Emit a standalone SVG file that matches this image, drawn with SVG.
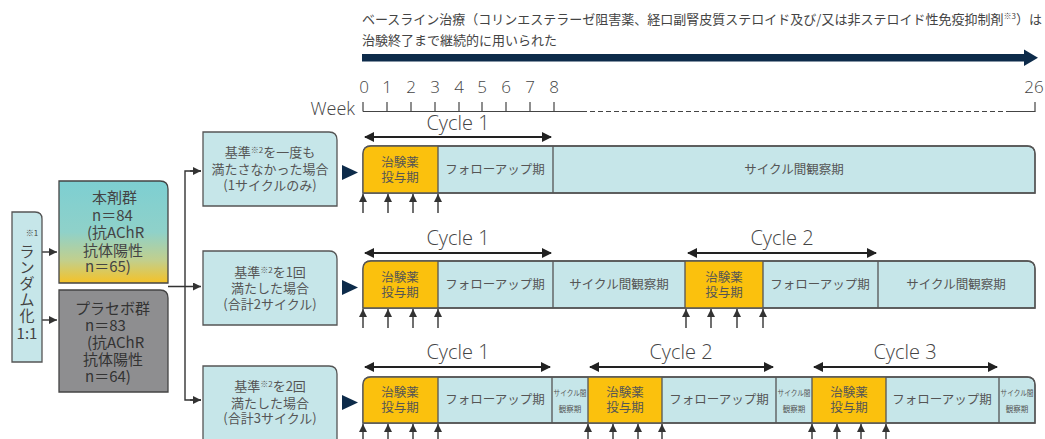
<svg xmlns="http://www.w3.org/2000/svg" width="1045" height="439" viewBox="0 0 1045 439">
<style>
text{font-family:"Noto Sans CJK JP","Noto Sans",sans-serif;fill:#444}
.t13{font-size:13px}
.box{fill:#c6e6e9;stroke:#555;stroke-width:1.3}
.cell{font-size:12.5px;text-anchor:middle;fill:#555}
.sm{font-size:7.5px;text-anchor:middle;fill:#555}
.cyc{font-family:"Open Sans","Noto Sans",sans-serif;font-weight:300;font-size:20px;text-anchor:middle;fill:#444}
.num{font-family:"Open Sans","Noto Sans",sans-serif;font-weight:300;font-size:17px;text-anchor:middle;fill:#444}
.dbl{stroke:#222;stroke-width:2.2;fill:none;marker-start:url(#ah);marker-end:url(#ah)}
.up{stroke:#333;stroke-width:1.4;marker-end:url(#au)}
.con{stroke:#333;stroke-width:1.4;fill:none}
.sep{stroke:#555;stroke-width:1.3}
.yel{fill:#fbc10d}
.tri{fill:#0d2b4a}
.g{font-size:15px;fill:#444}
.gp{font-size:15px;fill:#333}
.c{font-size:13px;text-anchor:middle;fill:#555}
.v{font-size:15px;text-anchor:middle;fill:#444}
</style>
<defs>
<marker id="ah" viewBox="0 0 10 10" refX="9" refY="5" markerWidth="11" markerHeight="10" markerUnits="userSpaceOnUse" orient="auto-start-reverse"><path d="M0,0L10,5L0,10Z" fill="#222"/></marker>
<marker id="au" viewBox="0 0 10 10" refX="10" refY="5" markerWidth="9" markerHeight="8" markerUnits="userSpaceOnUse" orient="auto"><path d="M0,0L10,5L0,10Z" fill="#333"/></marker>
<linearGradient id="grad" x1="0" y1="0" x2="0" y2="1">
<stop offset="0" stop-color="#7dcfd2"/>
<stop offset="0.5" stop-color="#8fd1c9"/>
<stop offset="0.78" stop-color="#c2cf8c"/>
<stop offset="1" stop-color="#f5c227"/>
</linearGradient>
</defs>

<!-- header -->
<g id="header">
<text class="t13" x="362" y="24">ベースライン治療（コリンエステラーゼ阻害薬、経口副腎皮質ステロイド及び/又は非ステロイド性免疫抑制剤<tspan font-size="8" dy="-5">※3</tspan><tspan dy="5">）は</tspan></text>
<text class="t13" x="362" y="45">治験終了まで継続的に用いられた</text>
<rect x="362" y="54" width="664" height="7.5" fill="#0d2b4a"/>
<path d="M1024,49.5L1038,57.75L1024,66Z" fill="#0d2b4a"/>
</g>

<!-- week axis -->
<g id="axis">
<text x="355" y="115" font-size="18" text-anchor="end" style="font-family:'Open Sans','Noto Sans',sans-serif;font-weight:300;fill:#444">Week</text>
<path d="M363,111.5H582M1008,111.5H1035.5" stroke="#444" stroke-width="1.2"/>
<path d="M582,111.5H1008" stroke="#444" stroke-width="1.2" stroke-dasharray="5,3"/>
<path d="M363,102V111.5M387,102V111.5M411,102V111.5M435,102V111.5M459,102V111.5M482,102V111.5M506,102V111.5M530,102V111.5M554,102V111.5M1035,102V111.5" stroke="#444" stroke-width="1.2"/>
<text class="num" x="364" y="93">0</text>
<text class="num" x="387" y="93">1</text>
<text class="num" x="411" y="93">2</text>
<text class="num" x="435" y="93">3</text>
<text class="num" x="459" y="93">4</text>
<text class="num" x="482" y="93">5</text>
<text class="num" x="506" y="93">6</text>
<text class="num" x="530" y="93">7</text>
<text class="num" x="554" y="93">8</text>
<text class="num" x="1034" y="93">26</text>
</g>

<!-- connectors -->
<g id="connectors">
<path class="con" d="M42,252H57" marker-end="url(#au)"/>
<path class="con" d="M42,320H57" marker-end="url(#au)"/>
<path class="con" d="M168,286.5H201" marker-end="url(#au)"/>
<path class="con" d="M201,171H185V400H201" />
<path class="con" d="M190,171H201" marker-end="url(#au)"/>
<path class="con" d="M190,400H201" marker-end="url(#au)"/>
</g>

<!-- randomization -->
<g id="random">
<path d="M12,362V212H35Q42,212 42,219V362Z" class="box"/>
<text x="32" y="236" font-size="8" text-anchor="middle" fill="#555">※1</text>
<text class="v" x="27" y="257"><tspan x="27" y="257">ラ</tspan><tspan x="27" y="273">ン</tspan><tspan x="27" y="289">ダ</tspan><tspan x="27" y="305">ム</tspan><tspan x="27" y="321">化</tspan><tspan x="27" y="339">1:1</tspan></text>
</g>

<!-- groups -->
<g id="active">
<path d="M59,283V181H160Q168,181 168,189V283Z" fill="url(#grad)" stroke="#444" stroke-width="1.3"/>
<text class="g" x="92" y="203"><tspan x="92" y="203">本剤群</tspan><tspan x="92" y="221">n＝84</tspan><tspan x="87" y="238">(抗AChR</tspan><tspan x="83" y="256">抗体陽性</tspan><tspan x="85" y="272">n＝65)</tspan></text>
</g>
<g id="placebo">
<path d="M59,392V290H160Q168,290 168,298V392Z" fill="#8e8e90" stroke="#444" stroke-width="1.3"/>
<text class="gp" x="75" y="314"><tspan x="75" y="314">プラセボ群</tspan><tspan x="85" y="331">n＝83</tspan><tspan x="87" y="348">(抗AChR</tspan><tspan x="83" y="365">抗体陽性</tspan><tspan x="85" y="382">n＝64)</tspan></text>
</g>

<!-- condition boxes -->
<g id="cond1">
<path class="box" d="M203,206V132H329Q337,132 337,140V206Z"/>
<text class="c" x="270" y="157"><tspan x="270" y="157">基準</tspan><tspan font-size="8" dy="-4">※2</tspan><tspan dy="4">を一度も</tspan><tspan x="270" y="174">満たさなかった場合</tspan><tspan x="270" y="190">(1サイクルのみ)</tspan></text>
</g>
<g id="cond2">
<path class="box" d="M203,325V251H329Q337,251 337,259V325Z"/>
<text class="c" x="270" y="277"><tspan x="270" y="277">基準</tspan><tspan font-size="8" dy="-4">※2</tspan><tspan dy="4">を1回</tspan><tspan x="270" y="293">満たした場合</tspan><tspan x="270" y="309">(合計2サイクル)</tspan></text>
</g>
<g id="cond3">
<path class="box" d="M203,442V366H329Q337,366 337,374V442Z"/>
<text class="c" x="270" y="391"><tspan x="270" y="391">基準</tspan><tspan font-size="8" dy="-4">※2</tspan><tspan dy="4">を2回</tspan><tspan x="270" y="408">満たした場合</tspan><tspan x="270" y="423">(合計3サイクル)</tspan></text>
</g>

<!-- row 1 -->
<g id="row1">
<path class="tri" d="M342,165L358,172.5L342,180Z"/>
<path class="box" d="M363,193V154Q363,146 371,146H1027Q1035,146 1035,154V193Z"/>
<path class="yel" d="M363,193V154Q363,146 371,146H438V193Z"/>
<path class="sep" d="M438,146V193M553,146V193"/>
<path d="M363,193V154Q363,146 371,146H1027Q1035,146 1035,154V193Z" fill="none" stroke="#555" stroke-width="1.3"/>
<text class="cell" x="400" y="167"><tspan x="400" y="167">治験薬</tspan><tspan x="400" y="182">投与期</tspan></text>
<text class="cell" x="495" y="174">フォローアップ期</text>
<text class="cell" x="794" y="174">サイクル間観察期</text>
<path class="dbl" d="M365,137H551"/>
<text class="cyc" x="458" y="130">Cycle 1</text>
<path class="up" d="M363,213V194"/><path class="up" d="M388,213V194"/><path class="up" d="M413,213V194"/><path class="up" d="M438,213V194"/>
</g>

<!-- row 2 -->
<g id="row2">
<path class="tri" d="M342,280L358,287.5L342,295Z"/>
<path class="box" d="M363,308V269Q363,261 371,261H1027Q1035,261 1035,269V308Z"/>
<path class="yel" d="M363,308V269Q363,261 371,261H438V308Z"/>
<rect class="yel" x="685" y="261" width="78" height="47"/>
<path class="sep" d="M438,261V308M553,261V308M685,261V308M763,261V308M878,261V308"/>
<path d="M363,308V269Q363,261 371,261H1027Q1035,261 1035,269V308Z" fill="none" stroke="#555" stroke-width="1.3"/>
<text class="cell" x="400" y="282"><tspan x="400" y="282">治験薬</tspan><tspan x="400" y="297">投与期</tspan></text>
<text class="cell" x="495" y="289">フォローアップ期</text>
<text class="cell" x="619" y="289">サイクル間観察期</text>
<text class="cell" x="724" y="282"><tspan x="724" y="282">治験薬</tspan><tspan x="724" y="297">投与期</tspan></text>
<text class="cell" x="820" y="289">フォローアップ期</text>
<text class="cell" x="956" y="289">サイクル間観察期</text>
<path class="dbl" d="M365,253H551"/>
<path class="dbl" d="M688,253H876"/>
<text class="cyc" x="458" y="245">Cycle 1</text>
<text class="cyc" x="782" y="245">Cycle 2</text>
<path class="up" d="M363,328V309"/><path class="up" d="M388,328V309"/><path class="up" d="M413,328V309"/><path class="up" d="M438,328V309"/>
<path class="up" d="M686,328V309"/><path class="up" d="M711,328V309"/><path class="up" d="M737,328V309"/><path class="up" d="M763,328V309"/>
</g>

<!-- row 3 -->
<g id="row3">
<path class="tri" d="M342,395L358,402.5L342,410Z"/>
<path class="box" d="M363,423V385Q363,377 371,377H1027Q1035,377 1035,385V423Z"/>
<path class="yel" d="M363,423V385Q363,377 371,377H438V423Z"/>
<rect class="yel" x="588" y="377" width="74" height="46"/>
<rect class="yel" x="812" y="377" width="74" height="46"/>
<path class="sep" d="M438,377V423M552,377V423M588,377V423M662,377V423M776,377V423M812,377V423M886,377V423M999,377V423"/>
<path d="M363,423V385Q363,377 371,377H1027Q1035,377 1035,385V423Z" fill="none" stroke="#555" stroke-width="1.3"/>
<text class="cell" x="400" y="397"><tspan x="400" y="397">治験薬</tspan><tspan x="400" y="412">投与期</tspan></text>
<text class="cell" x="495" y="404">フォローアップ期</text>
<text class="sm" x="570" y="396"><tspan x="570" y="396" textLength="33" lengthAdjust="spacingAndGlyphs">サイクル間</tspan><tspan x="570" y="412">観察期</tspan></text>
<text class="cell" x="625" y="397"><tspan x="625" y="397">治験薬</tspan><tspan x="625" y="412">投与期</tspan></text>
<text class="cell" x="719" y="404">フォローアップ期</text>
<text class="sm" x="794" y="396"><tspan x="794" y="396" textLength="33" lengthAdjust="spacingAndGlyphs">サイクル間</tspan><tspan x="794" y="412">観察期</tspan></text>
<text class="cell" x="849" y="397"><tspan x="849" y="397">治験薬</tspan><tspan x="849" y="412">投与期</tspan></text>
<text class="cell" x="942" y="404">フォローアップ期</text>
<text class="sm" x="1017" y="396"><tspan x="1017" y="396" textLength="33" lengthAdjust="spacingAndGlyphs">サイクル間</tspan><tspan x="1017" y="412">観察期</tspan></text>
<path class="dbl" d="M365,367H550"/>
<path class="dbl" d="M590,367H773"/>
<path class="dbl" d="M814,367H997"/>
<text class="cyc" x="458" y="359">Cycle 1</text>
<text class="cyc" x="681" y="359">Cycle 2</text>
<text class="cyc" x="905" y="359">Cycle 3</text>
<path class="up" d="M363,444V424"/><path class="up" d="M388,444V424"/><path class="up" d="M413,444V424"/><path class="up" d="M438,444V424"/>
<path class="up" d="M588,444V424"/><path class="up" d="M613,444V424"/><path class="up" d="M638,444V424"/><path class="up" d="M662,444V424"/>
<path class="up" d="M812,444V424"/><path class="up" d="M837,444V424"/><path class="up" d="M861,444V424"/><path class="up" d="M886,444V424"/>
</g>
</svg>
